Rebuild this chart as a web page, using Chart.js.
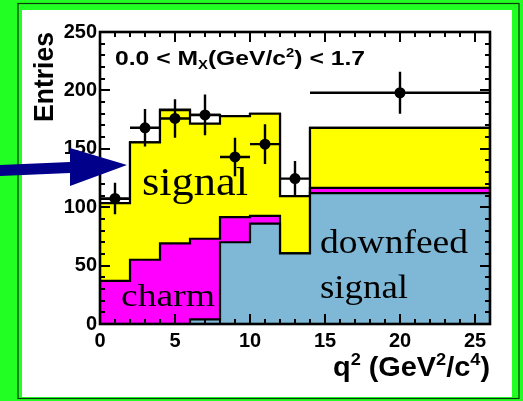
<!DOCTYPE html>
<html>
<head>
<meta charset="utf-8">
<script src="https://cdn.jsdelivr.net/npm/chart.js@4/dist/chart.umd.min.js"></script>
<style>
  html, body { margin: 0; padding: 0; background: #22ff22; }
  canvas { display: block; }
</style>
</head>
<body>
<canvas id="c" width="523" height="401"></canvas>
<script>
// q^2 bin edges (GeV^2/c^4): seven 2-unit bins, then one wide bin
const binEdges = [0, 2, 4, 6, 8, 10, 12, 14, 26];

// Stacked MC components per bin (entries)
const downfeed = [0, 0, 0, 4, 70, 86, 60.5, 112];
const charm    = [37, 55, 69, 69, 21.5, 6.5, 0, 4.5];
const signal   = [66.5, 100.5, 114, 98.5, 86.5, 87.5, 49, 51.5];
const other    = [3.5, 0, 0.5, 7.5, 0, 0, 0, 0];

// Data points with errors
const dataX    = [1, 3, 5, 7, 9, 11, 13, 20];
const dataY    = [107.5, 168, 176, 179, 143, 154, 124.5, 198];
const dataYErr = [13.5, 16, 16.5, 17.5, 16.5, 17, 15, 18];
const dataXErr = [1, 1, 1, 1, 1, 1, 1, 6];

// Axis tick labels
const xTicks = [0, 5, 10, 15, 20, 25];
const yTicks = [0, 50, 100, 150, 200, 250];

// cumulative stack levels
const cumDownfeed = downfeed.slice();
const cumCharm  = cumDownfeed.map((v, i) => v + charm[i]);
const cumSignal = cumCharm.map((v, i) => v + signal[i]);
const cumTotal  = cumSignal.map((v, i) => v + other[i]);

function histPoints(vals) {
  const pts = vals.map((v, i) => ({ x: binEdges[i], y: v }));
  pts.push({ x: binEdges[binEdges.length - 1], y: vals[vals.length - 1] });
  return pts;
}

function histDataset(vals, color, order) {
  return {
    type: 'line',
    data: histPoints(vals),
    stepped: 'before',
    fill: 'origin',
    backgroundColor: color,
    borderColor: '#000',
    borderWidth: 2.2,
    pointRadius: 0,
    order: order
  };
}

// draw a run of text pieces (with sub/superscripts), stretched to a given width
function drawRich(ctx, pieces, x, baseline, size, family, weight, targetWidth) {
  const small = Math.round(size * 0.62);
  const fontOf = (p) => `${weight} ${p.sub || p.sup ? small : size}px ${family}`;
  let natural = 0;
  pieces.forEach(p => { ctx.font = fontOf(p); natural += ctx.measureText(p.t).width; });
  const sx = targetWidth ? targetWidth / natural : 1;
  ctx.save();
  ctx.translate(x, baseline);
  ctx.scale(sx, 1);
  ctx.textAlign = 'left';
  ctx.textBaseline = 'alphabetic';
  ctx.fillStyle = '#000';
  let cx = 0;
  pieces.forEach(p => {
    ctx.font = fontOf(p);
    const dy = p.sup ? -size * 0.42 : (p.sub ? size * 0.22 : 0);
    ctx.fillText(p.t, cx, dy);
    cx += ctx.measureText(p.t).width;
  });
  ctx.restore();
}

const framePlugin = {
  id: 'frame',
  beforeDraw(chart) {
    const ctx = chart.ctx;
    ctx.save();
    ctx.fillStyle = '#22ff22';
    ctx.fillRect(0, 0, chart.width, chart.height);
    ctx.strokeStyle = '#0d3a0d';
    ctx.lineWidth = 1.2;
    ctx.strokeRect(18, 3.5, 501, 395);
    ctx.fillStyle = '#ffffff';
    ctx.fillRect(22, 10, 490, 387);
    ctx.restore();
  },
  afterDatasetsDraw(chart) {
    const ctx = chart.ctx;
    const xs = chart.scales.x, ys = chart.scales.y;
    const a = chart.chartArea;
    ctx.save();
    // error bars
    ctx.strokeStyle = '#000';
    ctx.lineWidth = 2.4;
    dataX.forEach((xv, i) => {
      const px = xs.getPixelForValue(xv), py = ys.getPixelForValue(dataY[i]);
      ctx.beginPath();
      ctx.moveTo(xs.getPixelForValue(xv - dataXErr[i]), py);
      ctx.lineTo(xs.getPixelForValue(xv + dataXErr[i]), py);
      ctx.moveTo(px, ys.getPixelForValue(dataY[i] - dataYErr[i]));
      ctx.lineTo(px, ys.getPixelForValue(dataY[i] + dataYErr[i]));
      ctx.stroke();
    });
    // inward ticks on all four sides
    ctx.lineWidth = 2;
    ctx.beginPath();
    for (let v = ys.min; v <= ys.max; v += 10) {
      const py = Math.round(ys.getPixelForValue(v)) + 0.0;
      const len = v % 50 === 0 ? 10 : 5;
      ctx.moveTo(a.left, py); ctx.lineTo(a.left + len, py);
      ctx.moveTo(a.right, py); ctx.lineTo(a.right - len, py);
    }
    for (let q = xs.min; q <= xs.max; q += 1) {
      const px = Math.round(xs.getPixelForValue(q));
      const len = q % 5 === 0 ? 10 : 5;
      ctx.moveTo(px, a.bottom); ctx.lineTo(px, a.bottom - len);
      ctx.moveTo(px, a.top); ctx.lineTo(px, a.top + len);
    }
    ctx.stroke();
    // plot frame
    ctx.lineWidth = 2.6;
    ctx.strokeRect(a.left, a.top, a.right - a.left, a.bottom - a.top);
    ctx.restore();
  },
  afterDraw(chart) {
    const ctx = chart.ctx;
    // range caption
    drawRich(ctx, [
      { t: '0.0 < M' }, { t: 'X', sub: true }, { t: '(GeV/c' }, { t: '2', sup: true }, { t: ') < 1.7' }
    ], 115, 65, 20, '"Liberation Sans", Arial, sans-serif', 'bold', 250);
    // x-axis title
    drawRich(ctx, [
      { t: 'q' }, { t: '2', sup: true }, { t: ' (GeV' }, { t: '2', sup: true }, { t: '/c' }, { t: '4', sup: true }, { t: ')' }
    ], 333, 376, 27, '"Liberation Sans", Arial, sans-serif', 'bold', 157);
    // y-axis title
    ctx.save();
    ctx.translate(53, 122);
    ctx.rotate(-Math.PI / 2);
    drawRich(ctx, [{ t: 'Entries' }], 0, 0, 27, '"Liberation Sans", Arial, sans-serif', 'bold', 90);
    ctx.restore();
    // component labels
    const serif = '"Liberation Serif", "Times New Roman", serif';
    drawRich(ctx, [{ t: 'signal' }], 142, 195, 41, serif, 'normal', 106);
    drawRich(ctx, [{ t: 'charm' }], 121, 306, 31, serif, 'normal', 94);
    drawRich(ctx, [{ t: 'downfeed' }], 320, 253, 34, serif, 'normal', 148);
    drawRich(ctx, [{ t: 'signal' }], 320, 298, 33, serif, 'normal', 88);
    // pointer arrow toward the signal component
    ctx.save();
    ctx.fillStyle = '#00008a';
    ctx.beginPath();
    ctx.moveTo(0, 165);
    ctx.lineTo(70, 162);
    ctx.lineTo(70, 148);
    ctx.lineTo(127, 165);
    ctx.lineTo(70, 186);
    ctx.lineTo(70, 173);
    ctx.lineTo(0, 176);
    ctx.closePath();
    ctx.fill();
    ctx.restore();
  }
};

const tickFont = { family: '"Liberation Sans", Arial, sans-serif', weight: 'bold', size: 20 };

new Chart(document.getElementById('c'), {
  data: {
    datasets: [
      {
        type: 'line',
        data: dataX.map((x, i) => ({ x: x, y: dataY[i] })),
        showLine: false,
        pointRadius: 5.5,
        pointBackgroundColor: '#000',
        pointBorderWidth: 0,
        order: 0
      },
      histDataset(cumDownfeed, '#7eb8d6', 1),
      histDataset(cumCharm, '#ff00ff', 2),
      histDataset(cumSignal, '#ffff00', 3),
      histDataset(cumTotal, '#ffffff', 4)
    ]
  },
  options: {
    responsive: false,
    animation: false,
    devicePixelRatio: 1,
    layout: { padding: { left: 0, top: 32, right: 33, bottom: 0 } },
    plugins: { legend: { display: false }, tooltip: { enabled: false } },
    scales: {
      x: {
        type: 'linear', min: 0, max: 26,
        grid: { display: false, drawTicks: false },
        border: { display: false },
        ticks: { font: tickFont, color: '#000', padding: 5, maxRotation: 0 },
        afterBuildTicks: s => { s.ticks = xTicks.map(v => ({ value: v })); },
        afterFit: s => { s.height = 77; }
      },
      y: {
        type: 'linear', min: 0, max: 250,
        grid: { display: false, drawTicks: false },
        border: { display: false },
        ticks: { font: tickFont, color: '#000', padding: 3 },
        afterBuildTicks: s => { s.ticks = yTicks.map(v => ({ value: v })); },
        afterFit: s => { s.width = 100; }
      }
    }
  },
  plugins: [framePlugin]
});
</script>
</body>
</html>
